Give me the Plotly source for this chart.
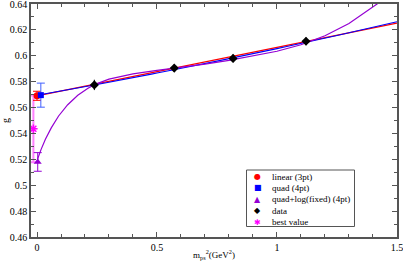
import plotly.graph_objects as go

# ---- data ----
data_x = [0.239, 0.572, 0.817, 1.121]
data_g = [0.5775, 0.5905, 0.5980, 0.6112]
data_err = [0.004, 0.003, 0.003, 0.003]

lin_fit_x = [0.0, 1.5]
lin_fit_g = [0.5690, 0.6252]

quad_fit_x = [0.0, 0.25, 0.5, 0.75, 1.0, 1.25, 1.5]
quad_fit_g = [0.5695, 0.5778, 0.5867, 0.5959, 0.6056, 0.6157, 0.6263]

qlog_fit_x = [0.0, 0.004, 0.0167, 0.035, 0.06, 0.09, 0.128, 0.17, 0.211, 0.239, 0.3,
              0.4, 0.5, 0.572, 0.6, 0.7, 0.8, 0.9, 1.0, 1.1, 1.2, 1.3, 1.417, 1.5]
qlog_fit_g = [0.5180, 0.5210, 0.5275, 0.5355, 0.5445, 0.5535, 0.5622, 0.5695, 0.5748, 0.5777, 0.5820,
              0.5860, 0.5887, 0.5903, 0.5909, 0.5935, 0.5965, 0.5998, 0.6035, 0.6085, 0.6155, 0.6250,
              0.6400, 0.6520]

lin_x, lin_g, lin_err = [0.0], [0.5691], [0.0035]
quad_x, quad_g, quad_err = [0.016], [0.5696], [0.0093]
qlog_x, qlog_g, qlog_err = [0.003], [0.5180], [0.0072]
best_x, best_g, best_err = [-0.015], [0.5436], [0.0258]

x_ticks = [0, 0.5, 1, 1.5]
x_ticklabels = ["0", "0.5", "1", "1.5"]
y_ticks = [0.46, 0.48, 0.50, 0.52, 0.54, 0.56, 0.58, 0.60, 0.62, 0.64]
y_ticklabels = ["0.46", "0.48", "0.5", "0.52", "0.54", "0.56", "0.58", "0.6", "0.62", "0.64"]

legend_names = ["linear (3pt)", "quad (4pt)", "quad+log(fixed) (4pt)", "data", "best value"]
legend_glyphs = ["\u25cf", "\u25a0", "\u25b2", "\u25c6", "\u2731"]

RED, BLUE, PURPLE, MAG = "#ff0000", "#0000ff", "#9400d3", "#ff00ff"
legend_colors = [RED, BLUE, PURPLE, "black", MAG]
FONT = "Liberation Serif"

fig = go.Figure()

# fit lines
fig.add_trace(go.Scatter(x=lin_fit_x, y=lin_fit_g, mode="lines",
                         line=dict(color=RED, width=1.2)))
fig.add_trace(go.Scatter(x=quad_fit_x, y=quad_fit_g, mode="lines", line_shape="spline",
                         line=dict(color=BLUE, width=1.2)))
fig.add_trace(go.Scatter(x=qlog_fit_x, y=qlog_fit_g, mode="lines",
                         line=dict(color=PURPLE, width=1.2)))

# best value
fig.add_trace(go.Scatter(x=best_x, y=best_g, mode="markers",
                         marker=dict(symbol="asterisk-open", size=7, color=MAG,
                                     line=dict(color=MAG, width=1.5)),
                         error_y=dict(type="data", array=best_err, color="#ff80ff",
                                      thickness=2, width=3)))
# extrapolated points
fig.add_trace(go.Scatter(x=lin_x, y=lin_g, mode="markers",
                         marker=dict(symbol="circle", size=7, color=RED),
                         error_y=dict(type="data", array=lin_err, color=RED, thickness=1, width=4)))
fig.add_trace(go.Scatter(x=quad_x, y=quad_g, mode="markers",
                         marker=dict(symbol="square", size=6, color=BLUE),
                         error_y=dict(type="data", array=quad_err, color="#4060ff", thickness=1, width=4)))
fig.add_trace(go.Scatter(x=qlog_x, y=qlog_g, mode="markers",
                         marker=dict(symbol="triangle-up", size=7, color=PURPLE),
                         error_y=dict(type="data", array=qlog_err, color=PURPLE, thickness=1, width=4)))
fig.add_trace(go.Scatter(x=data_x, y=data_g, mode="markers",
                         marker=dict(symbol="diamond", size=7, color="black"),
                         error_y=dict(type="data", array=data_err, color="black", thickness=1, width=0)))

axis_common = dict(showline=True, linecolor="#555555", linewidth=1.5, mirror="allticks",
                   ticks="inside", ticklen=5, tickwidth=1, tickcolor="#555555",
                   showgrid=False, zeroline=False, automargin=False,
                   ticklabeloverflow="allow",
                   tickfont=dict(family=FONT, size=10, color="black"))

fig.update_xaxes(range=[-0.025, 1.5002], tickmode="array", tickvals=x_ticks, ticktext=x_ticklabels,
                 minor=dict(dtick=0.1, tick0=0, ticks="inside", ticklen=3, tickcolor="#555555"),
                 title=dict(text="m<sub>ps</sub><sup>2</sup>(GeV<sup>2</sup>)",
                            font=dict(family=FONT, size=9, color="black"), standoff=0),
                 **axis_common)
fig.update_yaxes(range=[0.46, 0.64002], tickmode="array", tickvals=y_ticks, ticktext=y_ticklabels,
                 minor=dict(dtick=0.01, tick0=0.46, ticks="inside", ticklen=3, tickcolor="#555555"),
                 title=dict(text="g", font=dict(family=FONT, size=10, color="black"), standoff=4),
                 **axis_common)

# ---- hand-built legend box (paper coordinates of plot area) ----
W, H = 403, 266
ml, mr, mt, mb = 31, 6, 4, 29
pw, ph = W - ml - mr, H - mt - mb


def px2paper(x, y):
    return (x - ml) / pw, (H - mb - y) / ph


bx0, by0 = px2paper(246.5, 226.5)
bx1, by1 = px2paper(354.5, 170)
fig.add_shape(type="rect", xref="paper", yref="paper", x0=bx0, y0=by0, x1=bx1, y1=by1,
              line=dict(color="#555555", width=1), fillcolor="white", layer="above")

row_top, row_step = 176.5, 11.4
for i, (name, glyph, col) in enumerate(zip(legend_names, legend_glyphs, legend_colors)):
    sy = row_top + i * row_step
    gx, gy = px2paper(257.5, sy)
    tx, ty = px2paper(269.5, sy)
    fig.add_annotation(x=gx, y=gy, xref="paper", yref="paper", text=glyph, showarrow=False,
                       font=dict(family="DejaVu Sans", size=8, color=col),
                       xanchor="center", yanchor="middle")
    fig.add_annotation(x=tx, y=ty, xref="paper", yref="paper", text=name, showarrow=False,
                       font=dict(family=FONT, size=9, color="black"),
                       xanchor="left", yanchor="middle")

fig.update_layout(
    width=W, height=H,
    margin=dict(l=ml, r=mr, t=mt, b=mb),
    paper_bgcolor="white", plot_bgcolor="white",
    font=dict(family=FONT, size=9, color="black"),
    showlegend=False,
)

fig.write_html("out.html", config={"displayModeBar": False},
               post_script="document.body.style.margin='0px';document.body.style.overflow='hidden';")
